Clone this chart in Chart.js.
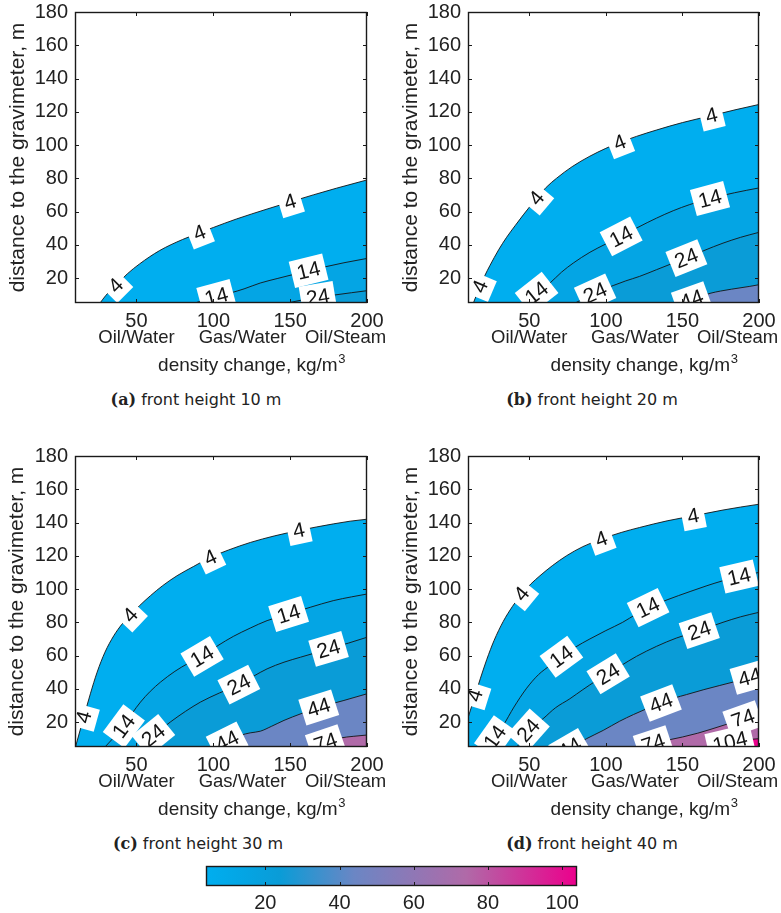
<!DOCTYPE html>
<html>
<head>
<meta charset="utf-8">
<script src="https://cdn.jsdelivr.net/npm/chart.js@4.4.1/dist/chart.umd.min.js"></script>
<style>
  html, body { margin: 0; padding: 0; background: #fff; }
  body { position: relative; width: 781px; height: 913px; overflow: hidden; }
  canvas { position: absolute; }
  .cap { position: absolute; transform: translate(-50%, -50%); white-space: nowrap;
         font: 16px "DejaVu Sans", sans-serif; color: #222; line-height: 16px; }
  .cap b { font-family: "DejaVu Serif", serif; font-weight: bold; }
</style>
</head>
<body>
<canvas id="pa" width="390" height="385" style="left:0;top:0"></canvas>
<canvas id="pb" width="391" height="385" style="left:390px;top:0"></canvas>
<canvas id="pc" width="390" height="385" style="left:0;top:444px"></canvas>
<canvas id="pd" width="391" height="385" style="left:390px;top:444px"></canvas>
<canvas id="cb" width="420" height="60" style="left:180px;top:855px"></canvas>
<script>
const FONT = '"Liberation Sans", Arial, Helvetica, sans-serif';

// axes
const densityTicks = [50, 100, 150, 200];
const distanceTicks = [20, 40, 60, 80, 100, 120, 140, 160, 180];
const densityRange = [10, 200];
const distanceRange = [5, 180];

// fluid pairs written under the density axis
const fluidPairs = ['Oil/Water', 'Gas/Water', 'Oil/Steam'];
const fluidPairDensity = [50, 119, 186];

// contour levels and colour scale
const contourLevels = [4, 14, 24, 44, 74, 104];
const colorScaleValues = [4, 14, 24, 44, 74, 104];
const colorScaleColors = ['#00aeef', '#04a5e4', '#0a9cd7', '#6b86c4', '#b06aa8', '#ec008c'];
const colorbarTicks = [20, 40, 60, 80, 100];
const colorbarRange = [4, 104];

const frontHeights = [10, 20, 30, 40];

// front height 10 m: contour lines as [density change, distance]
const h10_c4 = [[26.3,5],[30,9.5],[37,16],[44,22.5],[52,28.5],[65,36.5],[80,43.2],[100,50.4],[115,55.5],[135,61.5],[150,65.8],[165,70],[180,74],[200,79]];
const h10_c14 = [[88,5],[100,8.4],[111,11],[120,13.5],[130.5,17],[142,19.8],[154.4,22.7],[170,26.2],[185,29.2],[200,31.8]];
const h10_c24 = [[148,5],[160,7.2],[170,8.8],[178,9.7],[190,11.2],[200,12.4]];
const h10_lab4 = [36.5, 91, 150];
const h10_lab14 = [102, 162];
const h10_lab24 = [168];

// front height 20 m
const h20_c4 = [[13.5,5],[17.8,15],[21,21.5],[24.3,27.5],[30,37],[35.2,44.5],[41,51.8],[46.1,58],[54.8,68],[61,74.5],[67.8,80],[78,87],[89.6,93.3],[100,98],[109,101.5],[120,105.2],[133,109],[150,113.5],[169,117.7],[185,121.3],[200,124.4]];
const h20_c14 = [[47,5],[54.8,11],[63.5,17],[71,23.5],[78.7,29],[89.6,35.5],[100,40.5],[110,45],[121,50.5],[133,56],[144,60.5],[154.8,64.2],[168,67.8],[184,71.3],[200,74.2]];
const h20_c24 = [[80,5],[92.8,11],[104.8,15.5],[113,18.3],[122,21],[133,25],[144,29],[152.6,32],[164,36.5],[176.5,41],[188,44.5],[200,47.5]];
const h20_c44 = [[150,5],[160,8.3],[168,10.8],[182,13.3],[194,15],[200,16]];
const h20_lab4 = [17.8, 54.8, 109, 169];
const h20_lab14 = [54.8, 110, 168];
const h20_lab24 = [93, 152.6];
const h20_lab44 = [156];

// front height 30 m
const h30_c4 = [[10.3,5],[15.7,23],[20,37],[24.4,50],[29.5,62],[35.3,72],[40.5,78.8],[46.1,84.5],[52,90],[59.1,96],[67,102],[76.4,108],[87,113.5],[98.1,119],[110,123.5],[124.1,128],[140,132],[155.6,135.2],[167,137.3],[178.3,139.2],[189,140.8],[200,142]];
const h30_c14 = [[29.5,5],[35.5,11],[41.8,17.5],[47,25],[52.6,32],[59,38.5],[65.6,44],[75,50.5],[84,55.5],[92.7,59.5],[103,66],[113,71.5],[124,76.5],[135,81],[149,85],[163,89],[178,93],[190,95.3],[200,97]];
const h30_c24 = [[52,5],[61,12],[72,20],[82,26.5],[91.6,32],[104,37.5],[116.6,42.5],[126,47.5],[135,52],[146,56],[156.7,59],[166,61.5],[175,64],[188,67.5],[200,71]];
const h30_c44 = [[102,5],[110,9],[117.6,12],[124,13.5],[130.6,14.5],[138,17.5],[146,21],[157,25],[168.6,28.8],[185,33],[200,37]];
const h30_c74 = [[165,5],[174,8],[182.7,10.4],[191,11.4],[200,12.2]];
const h30_lab4 = [15.7, 46, 98, 155.6];
const h30_lab14 = [41.8, 92.7, 149];
const h30_lab24 = [61, 116.6, 175];
const h30_lab44 = [109, 168.6];
const h30_lab74 = [173];

// front height 40 m
const h40_c4 = [[10,22.5],[14.6,36],[18,46],[22.2,57.5],[27,69],[33,80.5],[39,89.5],[45,97],[51,103],[57,108],[65,114],[74.3,120],[85,125.5],[97,130],[110,134],[122,137],[140,141],[157,144],[176.5,147.5],[188,149.3],[200,151]];
const h40_c14 = [[23,5],[27.6,11],[33,18],[40,29],[48,40],[56,48.5],[63.5,54],[72,60],[80,65],[89.6,70],[100,75],[111,80],[120,85],[128,89],[140,93.5],[155,98.5],[166,102],[176.5,105],[187,107.5],[200,110]];
const h40_c24 = [[42,5],[49.4,15],[59,22],[67,28.5],[76.5,34],[85,39.5],[94,45],[101.5,49],[110,54],[120,59.5],[133,65.5],[146,70.5],[161,75],[176.5,80],[188,83.3],[200,86]];
const h40_c44 = [[78,5],[87.4,10],[98.3,15],[109,20.5],[118,24.5],[126.6,28],[136,31.5],[145,34.5],[152.6,36.5],[164,39.5],[174.4,42],[185,44.5],[194,47],[200,48.5]];
const h40_c74 = [[125,5],[132,7.5],[139.6,9],[150,11],[160,13.3],[168,15.5],[180,19],[189.6,22],[200,25.5]];
const h40_c104 = [[171,5],[181,8],[190,9.2],[200,10]];
const h40_lab4 = [14.6, 45, 97, 157];
const h40_lab14 = [27.6, 71, 127.6, 187];
const h40_lab24 = [49.4, 101.5, 161];
const h40_lab44 = [76.5, 136, 194];
const h40_lab74 = [131, 189.6];
const h40_lab104 = [181];

// colour of the colour scale at value v (piecewise linear)
function hexToRgb(h) { return [1, 3, 5].map(i => parseInt(h.substr(i, 2), 16)); }
function colorAt(v) {
  const n = colorScaleValues.length;
  if (v <= colorScaleValues[0]) return colorScaleColors[0];
  if (v >= colorScaleValues[n - 1]) return colorScaleColors[n - 1];
  let i = 0;
  while (colorScaleValues[i + 1] < v) i++;
  const t = (v - colorScaleValues[i]) / (colorScaleValues[i + 1] - colorScaleValues[i]);
  const a = hexToRgb(colorScaleColors[i]), b = hexToRgb(colorScaleColors[i + 1]);
  return 'rgb(' + a.map((c, k) => Math.round(c + (b[k] - c) * t)).join(',') + ')';
}

// linear interpolation along a contour line (extrapolates past its ends)
function interp(line, xv) {
  const n = line.length;
  let i = 0;
  if (xv >= line[n - 1][0]) i = n - 2;
  else if (xv > line[0][0]) { while (line[i + 1][0] < xv) i++; }
  const [x0, y0] = line[i], [x1, y1] = line[i + 1];
  return y0 + (y1 - y0) * (xv - x0) / (x1 - x0);
}

const panels = [
  { id: 'pa', tag: '(a)', cap: [196, 400], area: { left: 75, right: 367, top: 12, bottom: 303 }, titlePad: 6,
    lines: { 4: h10_c4, 14: h10_c14, 24: h10_c24 },
    labels: { 4: h10_lab4, 14: h10_lab14, 24: h10_lab24 } },
  { id: 'pb', tag: '(b)', cap: [592, 400], area: { left: 78, right: 369, top: 12, bottom: 303 }, titlePad: 9,
    lines: { 4: h20_c4, 14: h20_c14, 24: h20_c24, 44: h20_c44 },
    labels: { 4: h20_lab4, 14: h20_lab14, 24: h20_lab24, 44: h20_lab44 } },
  { id: 'pc', tag: '(c)', cap: [198, 844], area: { left: 75, right: 367, top: 12, bottom: 303 }, titlePad: 5,
    lines: { 4: h30_c4, 14: h30_c14, 24: h30_c24, 44: h30_c44, 74: h30_c74 },
    labels: { 4: h30_lab4, 14: h30_lab14, 24: h30_lab24, 44: h30_lab44, 74: h30_lab74 } },
  { id: 'pd', tag: '(d)', cap: [592, 844], area: { left: 78, right: 369, top: 12, bottom: 303 }, titlePad: 9,
    lines: { 4: h40_c4, 14: h40_c14, 24: h40_c24, 44: h40_c44, 74: h40_c74, 104: h40_c104 },
    labels: { 4: h40_lab4, 14: h40_lab14, 24: h40_lab24, 44: h40_lab44, 74: h40_lab74, 104: h40_lab104 } }
];

function zeroPadding(s) { s.paddingLeft = s.paddingRight = s.paddingTop = s.paddingBottom = 0; }

// box around the axes with inward tick marks on all four sides
function drawFrame(ctx, a, xs, ys, xt, yt) {
  ctx.save();
  ctx.strokeStyle = '#1a1a1a';
  ctx.lineWidth = 1;
  ctx.beginPath();
  const tl = 4;
  if (xs) xt.forEach(v => {
    const p = Math.round(xs.getPixelForValue(v)) + 0.5;
    ctx.moveTo(p, a.bottom); ctx.lineTo(p, a.bottom - tl);
    ctx.moveTo(p, a.top); ctx.lineTo(p, a.top + tl);
  });
  if (ys) yt.forEach(v => {
    const p = Math.round(ys.getPixelForValue(v)) + 0.5;
    ctx.moveTo(a.left, p); ctx.lineTo(a.left + tl, p);
    ctx.moveTo(a.right, p); ctx.lineTo(a.right - tl, p);
  });
  ctx.stroke();
  ctx.lineWidth = 1.4;
  ctx.strokeRect(a.left + 0.5, a.top + 0.5, a.right - a.left - 1, a.bottom - a.top - 1);
  ctx.restore();
}

const decor = {
  id: 'contourDecor',
  afterDatasetsDraw(chart) {
    const p = chart.config.options.panel;
    const { ctx, chartArea: a } = chart;
    const xs = chart.scales.x, ys = chart.scales.y;
    ctx.save();
    ctx.beginPath();
    ctx.rect(a.left, a.top, a.right - a.left, a.bottom - a.top);
    ctx.clip();
    ctx.font = '21px ' + FONT;
    ctx.textAlign = 'center';
    ctx.textBaseline = 'middle';
    Object.keys(p.labels).forEach(level => {
      const line = p.lines[level];
      p.labels[level].forEach(xv => {
        const px = xs.getPixelForValue(xv), py = ys.getPixelForValue(interp(line, xv));
        const x1 = xs.getPixelForValue(xv - 3), y1 = ys.getPixelForValue(interp(line, xv - 3));
        const x2 = xs.getPixelForValue(xv + 3), y2 = ys.getPixelForValue(interp(line, xv + 3));
        const ang = Math.atan2(y2 - y1, x2 - x1);
        const txt = String(level);
        const w = ctx.measureText(txt).width + 11, h = 27;
        ctx.save();
        ctx.translate(px, py);
        ctx.rotate(ang);
        ctx.fillStyle = '#fff';
        ctx.fillRect(-w / 2, -h / 2, w, h);
        ctx.fillStyle = '#141414';
        ctx.fillText(txt, 0, 1);
        ctx.restore();
      });
    });
    ctx.restore();
  },
  afterDraw(chart) {
    const { ctx, chartArea: a } = chart;
    const xs = chart.scales.x, ys = chart.scales.y;
    drawFrame(ctx, a, xs, ys, densityTicks, distanceTicks);
    ctx.save();
    ctx.fillStyle = '#222';
    ctx.textAlign = 'center';
    ctx.textBaseline = 'alphabetic';
    ctx.font = '18.5px ' + FONT;
    fluidPairs.forEach((name, i) => {
      ctx.fillText(name, xs.getPixelForValue(fluidPairDensity[i]), a.bottom + 40);
    });
    // axis title with superscript
    const main = 'density change, kg/m', sup = '3';
    ctx.font = '19px ' + FONT;
    const wm = ctx.measureText(main).width;
    ctx.font = '13px ' + FONT;
    const ws = ctx.measureText(sup).width;
    const cx = (a.left + a.right) / 2 + 30.5;
    const x0 = cx - (wm + ws) / 2;
    ctx.textAlign = 'left';
    ctx.font = '19px ' + FONT;
    ctx.fillText(main, x0, a.bottom + 68);
    ctx.font = '13px ' + FONT;
    ctx.fillText(sup, x0 + wm + 0.5, a.bottom + 60);
    ctx.restore();
  }
};

panels.forEach(p => {
  const canvas = document.getElementById(p.id);
  const W = canvas.width, H = canvas.height;
  const datasets = contourLevels.filter(l => p.lines[l]).map(level => ({
    label: String(level),
    data: p.lines[level],
    borderColor: '#141414',
    borderWidth: 0.9,
    backgroundColor: colorAt(level),
    fill: { value: distanceRange[0] },
    pointRadius: 0,
    cubicInterpolationMode: 'monotone',
    order: -level
  }));
  new Chart(canvas, {
    type: 'line',
    data: { datasets },
    options: {
      panel: p,
      responsive: false,
      animation: false,
      events: [],
      layout: { padding: { left: 0, top: p.area.top, right: W - p.area.right, bottom: 0 } },
      plugins: { legend: { display: false }, tooltip: { enabled: false }, filler: { propagate: false } },
      scales: {
        x: {
          type: 'linear', min: densityRange[0], max: densityRange[1],
          afterBuildTicks: s => { s.ticks = densityTicks.map(v => ({ value: v })); },
          afterFit: s => { s.height = H - p.area.bottom; zeroPadding(s); },
          grid: { display: false, drawTicks: false }, border: { display: false },
          ticks: { font: { family: FONT, size: 20 }, color: '#222', padding: 6, maxRotation: 0, autoSkip: false }
        },
        y: {
          type: 'linear', min: distanceRange[0], max: distanceRange[1],
          afterBuildTicks: s => { s.ticks = distanceTicks.map(v => ({ value: v })); },
          afterFit: s => { s.width = p.area.left; zeroPadding(s); },
          grid: { display: false, drawTicks: false }, border: { display: false },
          ticks: { font: { family: FONT, size: 20 }, color: '#222', padding: 7, autoSkip: false },
          title: { display: true, text: 'distance to the gravimeter, m', color: '#222',
                   font: { family: FONT, size: 21 }, padding: { top: p.titlePad, bottom: 0 } }
        }
      }
    },
    plugins: [decor]
  });
});

// captions
panels.forEach((p, i) => {
  const d = document.createElement('div');
  d.className = 'cap';
  d.style.left = p.cap[0] + 'px';
  d.style.top = p.cap[1] + 'px';
  d.innerHTML = '<b>' + p.tag + '</b> front height ' + frontHeights[i] + ' m';
  document.body.appendChild(d);
});

// colour bar
const cbCanvas = document.getElementById('cb');
new Chart(cbCanvas, {
  type: 'line',
  data: { datasets: [] },
  options: {
    responsive: false,
    animation: false,
    events: [],
    layout: { padding: { left: 26, right: 23, top: 11, bottom: 0 } },
    plugins: { legend: { display: false }, tooltip: { enabled: false } },
    scales: {
      x: {
        type: 'linear', min: colorbarRange[0], max: colorbarRange[1],
        afterBuildTicks: s => { s.ticks = colorbarTicks.map(v => ({ value: v })); },
        afterFit: s => { s.height = cbCanvas.height - 31; zeroPadding(s); },
        grid: { display: false, drawTicks: false }, border: { display: false },
        ticks: { font: { family: FONT, size: 20 }, color: '#222', padding: 5, maxRotation: 0, autoSkip: false }
      },
      y: { display: false, min: 0, max: 1 }
    }
  },
  plugins: [{
    id: 'colorbarFill',
    beforeDatasetsDraw(chart) {
      const { ctx, chartArea: a } = chart;
      const xs = chart.scales.x;
      const x0 = xs.getPixelForValue(colorbarRange[0]), x1 = xs.getPixelForValue(colorbarRange[1]);
      const g = ctx.createLinearGradient(x0, 0, x1, 0);
      colorScaleValues.forEach((v, i) => {
        g.addColorStop((v - colorbarRange[0]) / (colorbarRange[1] - colorbarRange[0]), colorScaleColors[i]);
      });
      ctx.save();
      ctx.fillStyle = g;
      ctx.fillRect(a.left, a.top, a.right - a.left, a.bottom - a.top);
      ctx.restore();
    },
    afterDraw(chart) {
      drawFrame(chart.ctx, chart.chartArea, chart.scales.x, null, colorbarTicks, []);
    }
  }]
});
</script>
</body>
</html>
